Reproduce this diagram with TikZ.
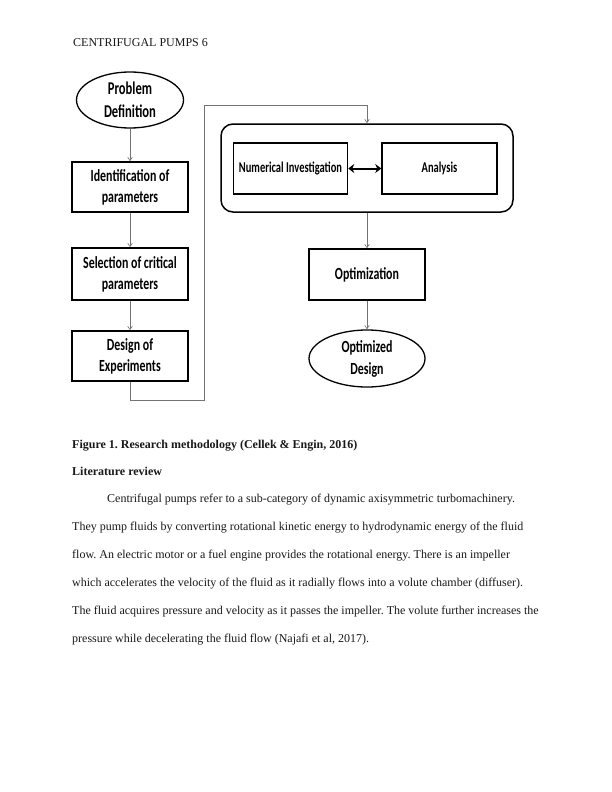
\documentclass[tikz,border=0pt]{standalone}
\usepackage{fontspec}
\setmainfont{Liberation Serif}
\newfontfamily\boxfont[FakeStretch=0.70]{Carlito}
\usetikzlibrary{shapes.geometric,arrows.meta}
\tikzset{
  bodytext/.style={anchor=base west,inner sep=0pt,font=\frenchspacing\fontsize{12}{14}\selectfont,text=black!90},
  headtext/.style={anchor=base west,inner sep=0pt,font=\frenchspacing\bfseries\fontsize{12}{14}\selectfont,text=black!90},
  flowbox/.style={draw=black,line width=1.5pt,rectangle,align=center,inner sep=0pt,
     font=\boxfont\bfseries\fontsize{17}{21}\selectfont},
  flowell/.style={draw=black,line width=1.3pt,ellipse,align=center,inner sep=0pt,
     font=\boxfont\bfseries\fontsize{18}{23}\selectfont},
  conn/.style={draw=black!55,line width=0.6pt},
  connarrow/.style={conn,-{Straight Barb[length=3.5pt,width=4.5pt]}},
}
\begin{document}
\begin{tikzpicture}[x=1pt,y=-1pt]
\useasboundingbox (0,0) rectangle (612,792);
\fill[white] (0,0) rectangle (612,792);

% header
\node[bodytext] (hdr) at (73,47) {CENTRIFUGAL PUMPS 6};

% left column
\node[flowell,minimum width=107pt,minimum height=56pt] (pd) at (130,100) {Problem\\Definition};
\node[flowbox,minimum width=116pt,minimum height=50pt] (ip) at (130,187) {Identification of\\parameters};
\node[flowbox,minimum width=116pt,minimum height=52pt] (sc) at (130,274) {Selection of critical\\parameters};
\node[flowbox,minimum width=116pt,minimum height=50pt] (de) at (130,356) {Design of\\Experiments};

% right column
\node[draw=black,line width=1.5pt,rounded corners=12pt,minimum width=292pt,minimum height=88pt,inner sep=0pt] (cont) at (367,168) {};
\node[flowbox,minimum width=114pt,minimum height=51pt,font=\boxfont\bfseries\fontsize{15}{17}\selectfont] (ni) at (290.5,168.5) {Numerical Investigation};
\node[flowbox,minimum width=115pt,minimum height=51pt,font=\boxfont\bfseries\fontsize{15}{17}\selectfont] (an) at (439.5,168.5) {Analysis};
\node[flowbox,minimum width=116pt,minimum height=51pt] (op) at (367,274.5) {Optimization};
\node[flowell,minimum width=116pt,minimum height=57pt,font=\boxfont\bfseries\fontsize{17}{22}\selectfont] (od) at (367,358.5) {Optimized\\Design};

% connectors
\draw[connarrow] (pd.south) -- (ip.north);
\draw[connarrow] (ip.south) -- (sc.north);
\draw[connarrow] (sc.south) -- (de.north);
\coordinate (c1) at (130,400);
\coordinate (c2) at (204,400);
\coordinate (c3) at (204,105);
\coordinate (c4) at (367,105);
\draw[connarrow] (de.south) -- (c1) -- (c2) -- (c3) -- (c4) -- (cont.north);
\draw[connarrow] (cont.south) -- (op.north);
\draw[connarrow] (op.south) -- (od.north);
\draw[line width=2pt,{Stealth[length=6pt,width=9pt]}-{Stealth[length=6pt,width=9pt]}] (ni.east) -- (an.west);

% caption and text
\node[headtext] (cap) at (72,448) {Figure 1. Research methodology (Cellek \& Engin, 2016)};
\node[headtext] (lit) at (72,475) {Literature review};
\node[bodytext] (l1) at (107,502) {Centrifugal pumps refer to a sub-category of dynamic axisymmetric turbomachinery.};
\node[bodytext] (l2) at (72,530) {They pump fluids by converting rotational kinetic energy to hydrodynamic energy of the fluid};
\node[bodytext] (l3) at (72,558) {flow. An electric motor or a fuel engine provides the rotational energy. There is an impeller};
\node[bodytext] (l4) at (72,586) {which accelerates the velocity of the fluid as it radially flows into a volute chamber (diffuser).};
\node[bodytext] (l5) at (72,614) {The fluid acquires pressure and velocity as it passes the impeller. The volute further increases the};
\node[bodytext] (l6) at (72,642) {pressure while decelerating the fluid flow (Najafi et al, 2017).};
\end{tikzpicture}
\end{document}
